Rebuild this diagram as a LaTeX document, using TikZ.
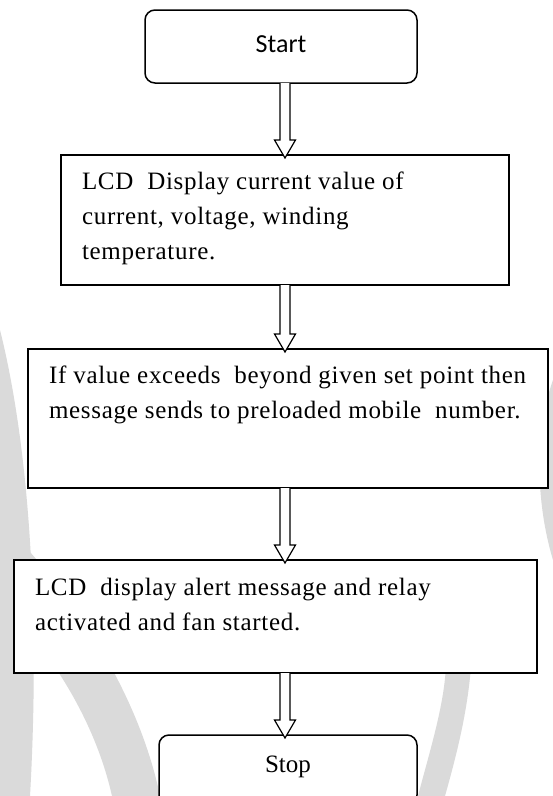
\documentclass[tikz,border=0pt]{standalone}
\usepackage{fontspec}
\setmainfont{Liberation Serif}
\newfontfamily\boxfont{Liberation Serif}[LetterSpace=2.8]
\newfontfamily\startfont{Carlito}
\usetikzlibrary{calc}
\definecolor{wm}{RGB}{218,218,218}
\newcommand{\arrx}{285pt}
\newcommand{\flowarrow}[2]{\draw[hollow] let \p1=(#1.south), \p2=(#2.north) in
  (\arrx-5pt,\y1) -- (\arrx-5pt,\y2+15pt) -- (\arrx-10.5pt,\y2+15pt) -- (\arrx,\y2-3pt)
  -- (\arrx+10.5pt,\y2+15pt) -- (\arrx+5pt,\y2+15pt) -- (\arrx+5pt,\y1);}

\begin{document}
\begin{tikzpicture}[x=1pt,y=-1pt,
  term/.style={draw,fill=white,line width=1.5pt,rounded corners=10pt,outer sep=0pt,text height=17pt},
  proc/.style={draw,fill=white,line width=1.4pt,anchor=north west,inner xsep=21pt,inner ysep=9.5pt,outer sep=0pt,font=\boxfont\fontsize{25}{35}\selectfont},
  hollow/.style={draw,fill=white,line width=1.2pt,line join=miter}]
\clip (0,0) rectangle (553,796);
\fill[white] (0,0) rectangle (553,796);
% watermark in the background
\fill[wm] (0,330) .. controls (30,450) and (40,620) .. (30,796) -- (0,796) -- cycle;
\fill[wm] (0,520) .. controls (80,600) and (140,700) .. (160,796) -- (112,796) .. controls (95,720) and (50,650) .. (0,600) -- cycle;
\fill[wm] (472,640) .. controls (472,700) and (455,760) .. (445,796) -- (418,796) .. controls (430,750) and (446,700) .. (446,660) -- cycle;
\fill[wm] (553,380) .. controls (535,430) and (535,500) .. (553,560) -- cycle;
% boxes
\node[term,minimum width=272pt,minimum height=73pt,text depth=6pt,font=\startfont\fontsize{26}{30}\selectfont] (start) at (281,46.5) {Start};
\node[proc] (disp) at (61,155) {\parbox[t][111pt][t]{406pt}{\strut LCD~ Display current value of\\current, voltage, winding\\temperature.}};
\node[proc] (sms) at (28,349) {\parbox[t][120pt][t]{478pt}{\strut\mbox{If value exceeds~ beyond given set point then}\\message sends to preloaded mobile~ number.}};
\node[proc,inner ysep=11pt] (relay) at (14,560) {\parbox[t][91pt][t]{481pt}{\strut LCD~ display alert message and relay\\activated and fan started.}};
\node[term,minimum width=258pt,minimum height=70pt,text depth=13pt,font=\fontsize{25}{30}\selectfont] (stop) at (288,770) {Stop};
% arrows
\flowarrow{start}{disp}
\flowarrow{disp}{sms}
\flowarrow{sms}{relay}
\flowarrow{relay}{stop}
\end{tikzpicture}
\end{document}
